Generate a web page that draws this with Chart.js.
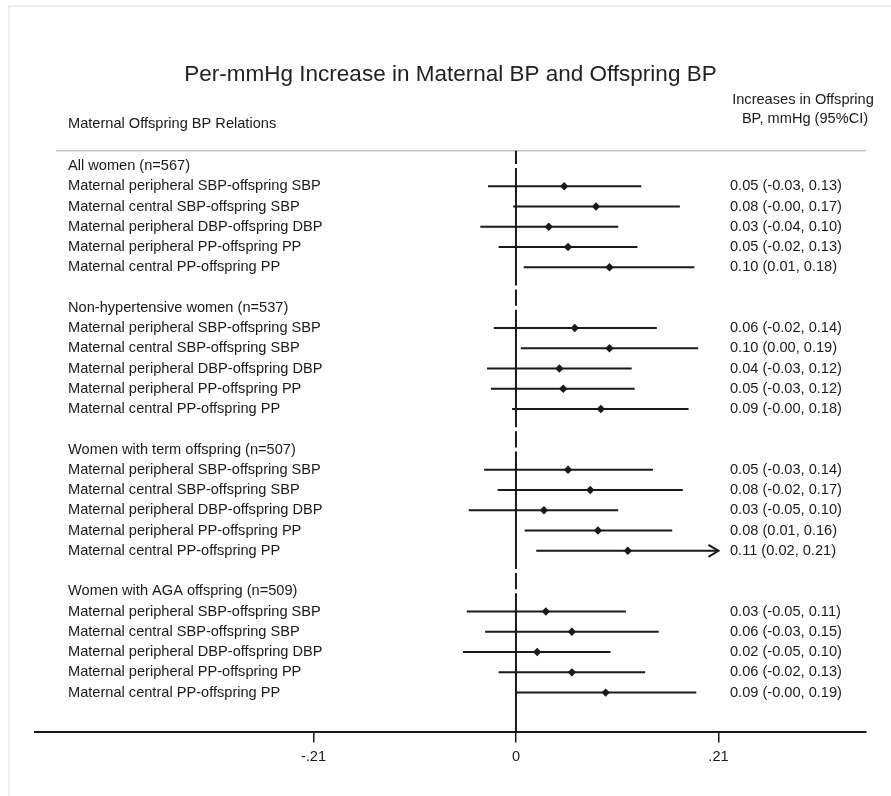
<!DOCTYPE html>
<html>
<head>
<meta charset="utf-8">
<script src="https://cdn.jsdelivr.net/npm/chart.js@4/dist/chart.umd.min.js"></script>
<style>
  html, body { margin: 0; padding: 0; background: #ffffff; }
  #wrap { position: relative; width: 891px; height: 796px; }
  #frame { position: absolute; left: 8px; top: 5px; right: 0; bottom: 0;
           border-top: 2px solid #e6f0f4; border-left: 2px solid #e6f0f4; pointer-events: none; }
  canvas { position: absolute; left: 0; top: 0; }
</style>
</head>
<body>
<div id="wrap">
  <div id="frame"></div>
  <canvas id="c" width="891" height="796"></canvas>
</div>
<script>
// ---------------- data ----------------
const groups = [
  "All women (n=567)",
  "Non-hypertensive women (n=537)",
  "Women with term offspring (n=507)",
  "Women with AGA offspring (n=509)"
];
const relations = [
  "Maternal peripheral SBP-offspring SBP",
  "Maternal central SBP-offspring SBP",
  "Maternal peripheral DBP-offspring DBP",
  "Maternal peripheral PP-offspring PP",
  "Maternal central PP-offspring PP"
];
// point estimates and 95% CI, one array per group (order = relations)
const estAll   = [0.050, 0.083, 0.034, 0.054, 0.097];
const lowAll   = [-0.029, -0.003, -0.037, -0.018, 0.008];
const highAll  = [0.130, 0.170, 0.106, 0.126, 0.185];
const estNonHT = [0.061, 0.097, 0.045, 0.049, 0.088];
const lowNonHT = [-0.023, 0.005, -0.030, -0.026, -0.004];
const highNonHT= [0.146, 0.189, 0.120, 0.123, 0.179];
const estTerm  = [0.054, 0.077, 0.029, 0.085, 0.116];
const lowTerm  = [-0.033, -0.019, -0.049, 0.009, 0.021];
const highTerm = [0.142, 0.173, 0.106, 0.162, 0.214];
const estAGA   = [0.031, 0.058, 0.022, 0.058, 0.093];
const lowAGA   = [-0.051, -0.032, -0.055, -0.018, 0.000];
const highAGA  = [0.114, 0.148, 0.098, 0.134, 0.187];
// text column
const textAll   = ["0.05 (-0.03, 0.13)", "0.08 (-0.00, 0.17)", "0.03 (-0.04, 0.10)", "0.05 (-0.02, 0.13)", "0.10 (0.01, 0.18)"];
const textNonHT = ["0.06 (-0.02, 0.14)", "0.10 (0.00, 0.19)", "0.04 (-0.03, 0.12)", "0.05 (-0.03, 0.12)", "0.09 (-0.00, 0.18)"];
const textTerm  = ["0.05 (-0.03, 0.14)", "0.08 (-0.02, 0.17)", "0.03 (-0.05, 0.10)", "0.08 (0.01, 0.16)", "0.11 (0.02, 0.21)"];
const textAGA   = ["0.03 (-0.05, 0.11)", "0.06 (-0.03, 0.15)", "0.02 (-0.05, 0.10)", "0.06 (-0.02, 0.13)", "0.09 (-0.00, 0.19)"];
const tickValues = [-0.21, 0, 0.21];
const tickLabels = ["-.21", "0", ".21"];
const clipMax = 0.21;
const titleText = "Per-mmHg Increase in Maternal BP and Offspring BP";
const leftHeader = "Maternal Offspring BP Relations";
const rightHeader = ["Increases in Offspring", "BP, mmHg (95%CI)"];

// ---------------- build rows ----------------
const groupEst = [estAll, estNonHT, estTerm, estAGA];
const groupLow = [lowAll, lowNonHT, lowTerm, lowAGA];
const groupHigh = [highAll, highNonHT, highTerm, highAGA];
const groupText = [textAll, textNonHT, textTerm, textAGA];

const rows = [];      // {y, type, label, text, est, low, high}
let r = 0;
groups.forEach((g, gi) => {
  rows.push({ y: r++, type: "header", label: g });
  relations.forEach((rel, ri) => {
    rows.push({ y: r++, type: "data", label: rel, text: groupText[gi][ri],
                est: groupEst[gi][ri], low: groupLow[gi][ri], high: groupHigh[gi][ri] });
  });
  if (gi < groups.length - 1) rows.push({ y: r++, type: "blank" });
});
const dataRows = rows.filter(d => d.type === "data");

const INK = "#1a1a1a";
const FONT = "'Liberation Sans', Arial, Helvetica, sans-serif";

const datasets = [{
  type: "scatter",
  order: 0,
  data: dataRows.map(d => ({ x: d.est, y: d.y })),
  pointStyle: "rectRot",
  pointRadius: 4.2,
  pointBackgroundColor: INK,
  pointBorderWidth: 0
}];
dataRows.forEach(d => {
  datasets.push({
    type: "line",
    order: 1,
    data: [{ x: d.low, y: d.y }, { x: Math.min(d.high, clipMax), y: d.y }],
    borderColor: INK,
    borderWidth: 2,
    pointRadius: 0,
    fill: false
  });
});

// ---------------- plugin for table text, null line, arrows ----------------
const forestDecor = {
  id: "forestDecor",
  beforeDatasetsDraw(chart) {
    const { ctx, chartArea, scales } = chart;
    const x0 = scales.x.getPixelForValue(0);
    // top grey rule
    ctx.save();
    ctx.strokeStyle = "#c4c4c4";
    ctx.lineWidth = 1.5;
    ctx.beginPath();
    ctx.moveTo(56, chartArea.top);
    ctx.lineTo(chartArea.right, chartArea.top);
    ctx.stroke();
    // null line with breaks at header / blank rows
    const gaps = rows.filter(d => d.type !== "data").map(d => scales.y.getPixelForValue(d.y));
    ctx.strokeStyle = INK;
    ctx.lineWidth = 2;
    let start = chartArea.top;
    ctx.beginPath();
    gaps.forEach(gy => {
      ctx.moveTo(x0, start);
      ctx.lineTo(x0, gy - 2);
      start = gy + 2;
    });
    ctx.moveTo(x0, start);
    ctx.lineTo(x0, chartArea.bottom);
    ctx.stroke();
    ctx.restore();
  },
  afterDatasetsDraw(chart) {
    const { ctx, scales } = chart;
    ctx.save();
    // arrowheads for clipped intervals
    ctx.strokeStyle = INK;
    ctx.lineWidth = 2;
    dataRows.filter(d => d.high > clipMax).forEach(d => {
      const xt = scales.x.getPixelForValue(clipMax);
      const yt = scales.y.getPixelForValue(d.y);
      ctx.beginPath();
      ctx.moveTo(xt - 10, yt - 6);
      ctx.lineTo(xt, yt);
      ctx.lineTo(xt - 10, yt + 6);
      ctx.stroke();
    });
    // text
    ctx.fillStyle = INK;
    ctx.textBaseline = "middle";
    ctx.font = "14.6px " + FONT;
    rows.forEach(d => {
      if (d.type === "blank") return;
      const y = scales.y.getPixelForValue(d.y);
      ctx.textAlign = "left";
      ctx.fillText(d.label, 68, y);
      if (d.type === "data") {
        ctx.fillText(d.text, 730, y);
      }
    });
    ctx.textAlign = "left";
    ctx.fillText(leftHeader, 68, 124);
    ctx.textAlign = "center";
    ctx.fillText(rightHeader[0], 803, 100);
    ctx.fillText(rightHeader[1], 805, 119);
    ctx.restore();
  }
};

new Chart(document.getElementById("c"), {
  data: { datasets },
  options: {
    responsive: false,
    animation: false,
    devicePixelRatio: 1,
    layout: { padding: { left: 35, right: 25, top: 0, bottom: 24 } },
    plugins: {
      legend: { display: false },
      tooltip: { enabled: false },
      title: {
        display: true,
        text: titleText,
        color: "#222",
        font: { family: FONT, size: 22.5, weight: "normal", lineHeight: 1.2 },
        padding: { top: 61.5, bottom: 62.2 }
      }
    },
    scales: {
      x: {
        type: "linear",
        min: -0.4988,
        max: 0.363,
        afterBuildTicks(scale) { scale.ticks = tickValues.map(v => ({ value: v })); },
        ticks: {
          color: INK,
          padding: 6,
          font: { family: FONT, size: 14.6 },
          callback(value, index) { return tickLabels[index]; }
        },
        grid: { drawOnChartArea: false, drawTicks: true, tickLength: 10, color: INK, lineWidth: 1.5 },
        border: { display: true, color: INK, width: 2 }
      },
      y: {
        type: "linear",
        display: false,
        reverse: true,
        min: -0.755,
        max: 27.97
      }
    }
  },
  plugins: [forestDecor]
});
</script>
</body>
</html>
